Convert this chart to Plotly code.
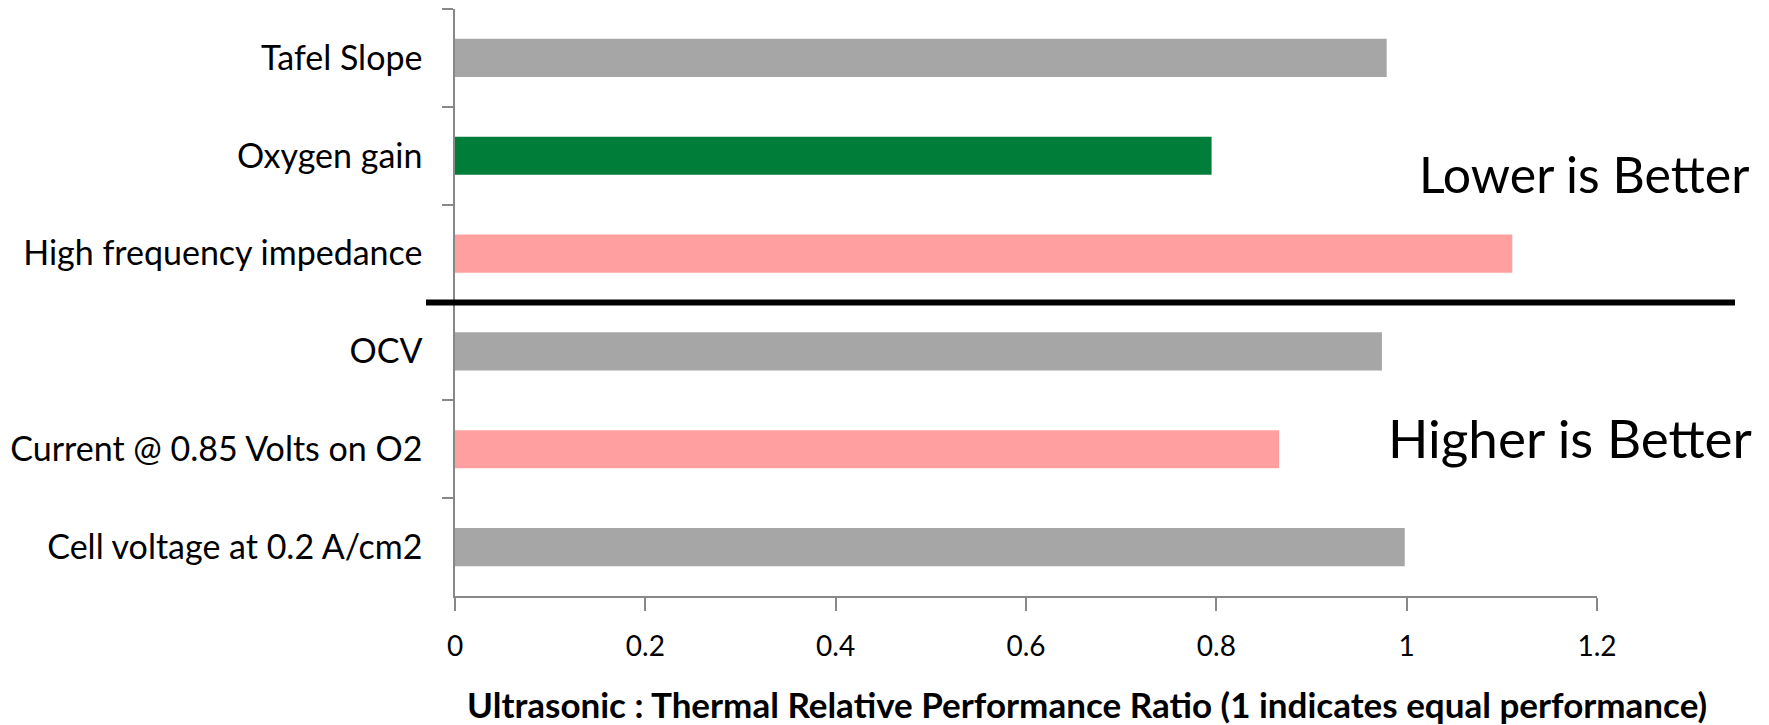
import plotly.graph_objects as go

categories = ["Tafel Slope", "Oxygen gain", "High frequency impedance",
              "OCV", "Current @ 0.85 Volts on O2", "Cell voltage at 0.2 A/cm2"]
values = [0.979, 0.795, 1.111, 0.974, 0.866, 0.998]
bar_colors = ["#A6A6A6", "#007E39", "#FF9F9F", "#A6A6A6", "#FF9F9F", "#A6A6A6"]
x_ticks = [0, 0.2, 0.4, 0.6, 0.8, 1.0, 1.2]
x_tick_labels = ["0", "0.2", "0.4", "0.6", "0.8", "1", "1.2"]

FONT = "Lato"

fig = go.Figure()
fig.add_trace(go.Bar(
    y=categories, x=values, orientation="h",
    marker=dict(color=bar_colors, line=dict(width=0)),
    width=0.39, showlegend=False, hoverinfo="x+y",
))

# page body has an 8px margin; figure sized to fit inside the window
OFF = 8
W, H = 1769 - OFF, 725 - OFF
px_left, px_right, px_top, px_bottom = 455, 1597, 9, 596  # plot area in screenshot pixels
L, R = px_left - OFF, W - (px_right - OFF)
T, B = px_top - OFF, H - (px_bottom - OFF)

fig.update_layout(
    width=W, height=H,
    margin=dict(l=L, r=R, t=T, b=B, pad=0),
    paper_bgcolor="white", plot_bgcolor="white",
    font=dict(family=FONT, color="black", size=34),
    xaxis=dict(range=[0, 1.2], tickvals=x_ticks, ticktext=x_tick_labels,
               showgrid=False, zeroline=False, showline=True, linecolor="#888888",
               linewidth=1.5, ticks="outside", ticklen=13, tickcolor="#888888",
               tickwidth=1.5, tickfont=dict(size=28, family=FONT),
               ticklabelstandoff=12, fixedrange=True),
    yaxis=dict(categoryorder="array", categoryarray=categories, autorange="reversed",
               showgrid=False, zeroline=False, showline=True, linecolor="#888888",
               linewidth=1.5, ticks="outside", ticklen=11, tickcolor="#888888",
               tickwidth=1.5, tickson="boundaries", tickfont=dict(size=34, family=FONT),
               ticklabelstandoff=24, fixedrange=True),
    bargap=0.6,
)

pw = px_right - px_left
ph = px_bottom - px_top

# divider line between "lower is better" and "higher is better" groups
fig.add_shape(type="line", xref="paper", yref="y",
              x0=(426 - px_left) / pw, x1=(1735 - px_left) / pw, y0=2.5, y1=2.5,
              line=dict(color="black", width=6))

fig.add_annotation(text="Lower is Better", xref="paper", yref="paper",
                   x=(1751 - px_left) / pw, y=(px_bottom - 174) / ph, xanchor="right", yanchor="middle",
                   showarrow=False, font=dict(size=50, family=FONT, color="black"))
fig.add_annotation(text="Higher is Better", xref="paper", yref="paper",
                   x=(1754 - px_left) / pw, y=(px_bottom - 437) / ph, xanchor="right", yanchor="middle",
                   showarrow=False, font=dict(size=53, family=FONT, color="black"))
fig.add_annotation(text="<b>Ultrasonic : Thermal Relative Performance Ratio (1 indicates equal performance)</b>",
                   xref="paper", yref="paper",
                   x=(1087 - px_left) / pw, y=(px_bottom - 704) / ph, xanchor="center", yanchor="middle",
                   showarrow=False, font=dict(size=35, family=FONT, color="black"))

fig.write_html("out.html")
